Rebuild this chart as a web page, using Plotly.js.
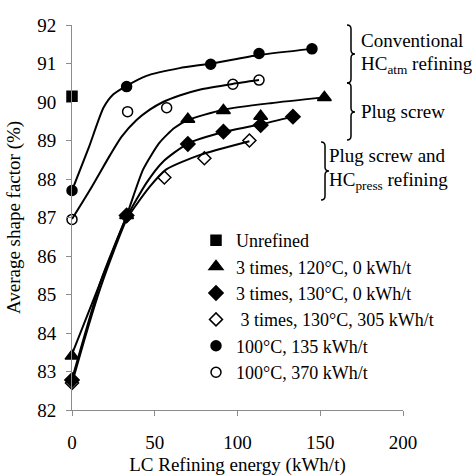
<!DOCTYPE html>
<html>
<head>
<meta charset="utf-8">
<script src="https://cdn.plot.ly/plotly-3.0.1.min.js"></script>
<style>html,body{margin:0;padding:0;background:#fff;}#chart{width:472px;height:476px;}</style>
</head>
<body>
<div id="chart"></div>
<script>
// ---- data ----
var unrefX = [0];
var unrefY = [90.15];

var t120X = [0, 33, 70, 91.5, 114, 152.5];
var t120Y = [83.4, 87.05, 89.55, 89.78, 89.63, 90.12];

var t130X = [0, 33, 70, 91.5, 114, 133.5];
var t130Y = [82.78, 87.05, 88.91, 89.23, 89.4, 89.62];

var t305X = [0, 33, 55.8, 80, 107.2];
var t305Y = [82.7, 87.05, 88.04, 88.54, 89.0];

var c135X = [0, 33, 83.8, 113, 145];
var c135Y = [87.7, 90.4, 90.98, 91.26, 91.38];

var c370X = [0, 33.6, 57.2, 97.2, 113];
var c370Y = [86.95, 89.75, 89.85, 90.46, 90.57];

// trend curves
var fitT120X = [0, 17, 33, 43, 53, 62, 70, 91.5, 120, 152.5];
var fitT120Y = [83.45, 85.3, 87.05, 88.25, 88.95, 89.33, 89.53, 89.8, 89.97, 90.12];

var fitT130X = [0, 8, 17, 25, 33, 45, 55, 70, 91.5, 114, 133.5];
var fitT130Y = [82.8, 84.0, 85.3, 86.2, 87.0, 87.9, 88.45, 88.92, 89.22, 89.42, 89.62];

var fitT305X = [0, 8, 17, 25, 33, 47, 57, 77, 107.2];
var fitT305Y = [82.7, 83.9, 85.15, 86.1, 86.95, 87.8, 88.25, 88.62, 88.98];

var fitC135X = [0, 10, 19, 25, 33, 45, 65, 84, 113, 145];
var fitC135Y = [87.7, 88.8, 89.85, 90.2, 90.42, 90.68, 90.88, 91.0, 91.22, 91.38];

var fitC370X = [0, 12, 23, 30, 39, 47, 55, 65, 77, 97, 113];
var fitC370Y = [86.96, 87.8, 88.62, 89.1, 89.53, 89.8, 90.0, 90.17, 90.32, 90.47, 90.57];

var names = ['Unrefined', '3 times, 120°C, 0 kWh/t', '3 times, 130°C, 0 kWh/t',
             '\u00a03 times, 130°C, 305 kWh/t', '100°C, 135 kWh/t', '100°C, 370 kWh/t'];

var xTicks = [0, 50, 100, 150, 200];
var yTicks = [82, 83, 84, 85, 86, 87, 88, 89, 90, 91, 92];

// ---- layout helpers ----
var FONT = "'Liberation Serif', 'Times New Roman', serif";
var L = 72, R = 403, T = 25, B = 410;
function px(p) { return (p - L) / (R - L); }
function py(p) { return (B - p) / (B - T); }
function brace(x, y1, ym, y2) {
  var w = 4;
  var pts = function (a, b) { return px(a).toFixed(4) + ',' + py(b).toFixed(4); };
  return 'M' + pts(x - w, y1) + ' Q' + pts(x, y1) + ' ' + pts(x, y1 + w) +
         ' L' + pts(x, ym - w) + ' Q' + pts(x, ym) + ' ' + pts(x + w, ym) +
         ' Q' + pts(x, ym) + ' ' + pts(x, ym + w) +
         ' L' + pts(x, y2 - w) + ' Q' + pts(x, y2) + ' ' + pts(x - w, y2);
}

function curve(xs, ys) {
  return {x: xs, y: ys, type: 'scatter', mode: 'lines', showlegend: false, hoverinfo: 'skip',
          line: {color: '#000', width: 2, shape: 'spline', smoothing: 0.6}, cliponaxis: false};
}
function pts(xs, ys, name, symbol, size, grp) {
  return {x: xs, y: ys, type: 'scatter', mode: 'markers', name: name, legendgroup: grp,
          marker: {symbol: symbol, size: size, color: '#000', line: {color: '#000', width: 1.5}},
          cliponaxis: false};
}

var data = [
  pts(unrefX, unrefY, names[0], 'square', 10, 'g0'),
  pts(t120X, t120Y, names[1], 'triangle-up', 12, 'g1'),
  pts(t130X, t130Y, names[2], 'diamond', 11, 'g2'),
  pts(t305X, t305Y, names[3], 'diamond-open', 10, 'g3'),
  pts(c135X, c135Y, names[4], 'circle', 10, 'g4'),
  pts(c370X, c370Y, names[5], 'circle-open', 10, 'g5'),
  curve(fitT120X, fitT120Y), curve(fitT130X, fitT130Y), curve(fitT305X, fitT305Y),
  curve(fitC135X, fitC135Y), curve(fitC370X, fitC370Y)
];

var annFont = {family: FONT, size: 19, color: '#000'};
function ann(text, left, cy) {
  return {text: text, xref: 'paper', yref: 'paper', x: px(left), y: py(cy),
          xanchor: 'left', yanchor: 'middle', showarrow: false, font: annFont};
}

var layout = {
  width: 472, height: 476,
  margin: {l: L, r: 472 - R, t: T, b: 476 - B},
  paper_bgcolor: '#fff', plot_bgcolor: '#fff',
  font: {family: FONT, size: 18, color: '#000'},
  showlegend: true,
  legend: {x: px(196), y: py(222), xanchor: 'left', yanchor: 'top',
           font: {family: FONT, size: 18}, bgcolor: 'rgba(0,0,0,0)', tracegroupgap: 0,
           itemwidth: 30},
  xaxis: {range: [0, 200], tickvals: xTicks, ticktext: xTicks.map(String),
          showgrid: false, zeroline: false, showline: true, linecolor: '#8c8c8c', linewidth: 1,
          ticks: 'outside', ticklen: 5, tickcolor: '#8c8c8c', ticklabelstandoff: 10,
          tickfont: {family: FONT, size: 19},
          title: {text: 'LC Refining energy (kWh/t)', font: {family: FONT, size: 19}, standoff: 12}},
  yaxis: {range: [82, 92], tickvals: yTicks, ticktext: yTicks.map(String),
          showgrid: false, zeroline: false, showline: true, linecolor: '#8c8c8c', linewidth: 1,
          ticks: 'outside', ticklen: 5, tickcolor: '#8c8c8c', ticklabelstandoff: 6,
          tickfont: {family: FONT, size: 19},
          title: {text: 'Average shape factor (%)', font: {family: FONT, size: 19}, standoff: 11}},
  shapes: [
    {type: 'path', xref: 'paper', yref: 'paper', path: brace(351, 25, 54, 83), line: {color: '#000', width: 1.5}},
    {type: 'path', xref: 'paper', yref: 'paper', path: brace(351, 83, 112, 140), line: {color: '#000', width: 1.5}},
    {type: 'path', xref: 'paper', yref: 'paper', path: brace(325, 142, 171, 200), line: {color: '#000', width: 1.5}}
  ],
  annotations: [
    ann('Conventional', 359, 40),
    ann('HC<sub>atm</sub> refining', 359, 65),
    ann('Plug screw', 359, 112),
    ann('Plug screw and', 327, 155),
    ann('HC<sub>press</sub> refining', 327, 181)
  ]
};

Plotly.newPlot('chart', data, layout, {displayModeBar: false, staticPlot: true});
</script>
</body>
</html>
